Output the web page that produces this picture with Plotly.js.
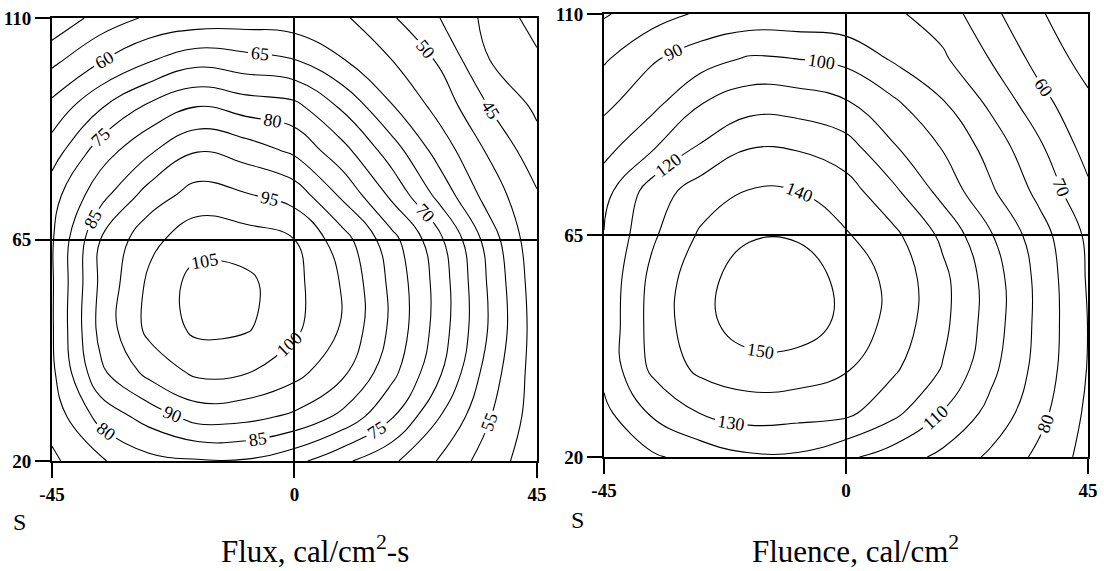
<!DOCTYPE html>
<html>
<head>
<meta charset="utf-8">
<script src="https://cdn.plot.ly/plotly-3.0.1.min.js"></script>
<style>html,body{margin:0;padding:0;background:#fff;}#chart{width:1104px;height:571px;}</style>
</head>
<body>
<div id="chart"></div>
<script>
// grid positions (x across, S along)
const xVals = [-45, -36, -27, -18, -9, 0, 9, 18, 27, 36, 45];
const yVals = [20, 29, 38, 47, 56, 65, 74, 83, 92, 101, 110];
const xTicks = [-45, 0, 45];
const xTickText = ['-45', '0', '45'];
const yTicks = [20, 65, 110];
const yTickText = ['20', '65', '110'];

// Flux, cal/cm2-s  (one row per S value)
const flux20  = [69, 74.5, 78.5, 79.5, 79.5, 76.5, 71, 66, 59.5, 52.5, 47];
const flux29  = [72, 81.7, 87, 92, 91.5, 89, 83.7, 75.5, 65, 55.5, 47.5];
const flux38  = [74, 89, 96.5, 101.1, 100.3, 96.7, 91, 81.6, 70.6, 57.8, 47.5];
const flux47  = [74.5, 91.6, 101.4, 106.2, 105.6, 101.1, 94.4, 84, 72.6, 59.8, 47.5];
const flux56  = [74.5, 91, 101, 107, 106.3, 101.5, 94.5, 83.8, 72.8, 59.5, 47];
const flux65  = [74.5, 90, 98.6, 102.9, 102.4, 100, 92.1, 81.8, 71.1, 57.9, 46];
const flux74  = [73, 83.3, 92.2, 97.3, 95.4, 93, 83.9, 74, 63.3, 52.8, 45.5];
const flux83  = [67.5, 77.5, 84.2, 89.8, 87.8, 84, 76.7, 67.5, 57.8, 49.4, 42];
const flux92  = [61.5, 69.5, 76, 80, 77.8, 76.5, 69.1, 60.4, 53.1, 45, 39];
const flux101 = [54, 60, 65, 68.75, 67.2, 65.7, 60.5, 55.3, 49.5, 40.2, 36];
const flux110 = [46, 52, 55.8, 57, 57.5, 57, 55.8, 50.6, 45, 38.6, 33];
const fluxLevels = {start: 35, end: 105, size: 5};

// Fluence, cal/cm2
const flu20  = [101, 108.5, 114, 118.5, 118.5, 111.9, 105.1, 97.6, 88, 77.6, 66.5];
const flu29  = [107.5, 121.5, 130.5, 134.5, 133.5, 132.5, 122.5, 109.5, 96.9, 83, 68];
const flu38  = [113, 132.1, 142.5, 146, 145.5, 141, 131.5, 119.4, 102.6, 86.2, 69.5];
const flu47  = [113, 133.7, 146.9, 155, 155, 147.5, 136, 122.5, 105.2, 87.1, 69.8];
const flu56  = [112.5, 132.9, 146.5, 155.5, 155.5, 147.2, 136.6, 122.8, 105.2, 87, 69];
const flu65  = [110.5, 128.5, 141.5, 149, 149, 141, 132.3, 117.8, 100.7, 84.3, 68];
const flu74  = [106.5, 125, 134.7, 140.5, 140, 134.5, 121.8, 106.6, 91.4, 77.2, 62];
const flu83  = [96.2, 108.8, 121.2, 129.5, 129, 124, 110.7, 99.3, 85.8, 71.5, 56];
const flu92  = [87.4, 96.8, 109.5, 115.7, 115, 111, 101.5, 90.7, 77.8, 63.3, 52];
const flu101 = [78.6, 88.8, 95.3, 101, 99.8, 97, 88.5, 81.5, 69.3, 56.3, 46];
const flu110 = [69, 75.6, 81.5, 83.5, 83.5, 83, 81.5, 75.5, 62.5, 51.1, 42];
const fluLevels = {start: 50, end: 150, size: 10};

const titles = ['Flux, cal/cm<sup>2</sup>-s', 'Fluence, cal/cm<sup>2</sup>'];
const axisLetter = 'S';

const fluxZ = [flux20, flux29, flux38, flux47, flux56, flux65, flux74, flux83, flux92, flux101, flux110];
const fluZ = [flu20, flu29, flu38, flu47, flu56, flu65, flu74, flu83, flu92, flu101, flu110];

const SERIF = 'Liberation Serif';

function contourTrace(z, lv, xa, ya) {
  return {
    type: 'contour', x: xVals, y: yVals, z: z, xaxis: xa, yaxis: ya,
    autocontour: false,
    contours: {coloring: 'none', start: lv.start, end: lv.end, size: lv.size,
               showlabels: true,
               labelfont: {family: SERIF, size: 18, color: '#000'}},
    line: {color: '#000', width: 1.1, smoothing: 1.2},
    showscale: false, hoverinfo: 'skip'
  };
}

function xAxis(domain, anchor) {
  return {domain: domain, anchor: anchor, range: [-45, 45],
    tickmode: 'array', tickvals: xTicks, ticktext: xTickText,
    ticks: 'outside', ticklen: 15, tickwidth: 2, tickcolor: '#000',
    showline: true, linewidth: 2, linecolor: '#000', mirror: true,
    showgrid: true, gridcolor: '#000', gridwidth: 2, zeroline: false,
    tickfont: {family: SERIF, size: 19, color: '#000', weight: 'bold'},
    fixedrange: true};
}
function yAxis(domain, anchor) {
  return {domain: domain, anchor: anchor, range: [20, 110],
    tickmode: 'array', tickvals: yTicks, ticktext: yTickText,
    ticks: 'outside', ticklen: 15, tickwidth: 2, tickcolor: '#000',
    showline: true, linewidth: 2, linecolor: '#000', mirror: true,
    showgrid: true, gridcolor: '#000', gridwidth: 2, zeroline: false,
    tickfont: {family: SERIF, size: 19, color: '#000', weight: 'bold'},
    fixedrange: true};
}

const data = [
  contourTrace(fluxZ, fluxLevels, 'x', 'y'),
  contourTrace(fluZ, fluLevels, 'x2', 'y2')
];

const layout = {
  width: 1104, height: 571,
  margin: {l: 52, r: 16, t: 14, b: 110},
  paper_bgcolor: '#fff', plot_bgcolor: '#fff',
  showlegend: false,
  xaxis: xAxis([0, 0.4681], 'y'),
  yaxis: yAxis([0, 0.991], 'x'),
  xaxis2: xAxis([0.5328, 1], 'y2'),
  yaxis2: yAxis([0.009, 1], 'x2'),
  annotations: [
    {xref: 'paper', yref: 'paper', x: 0.2539, y: -0.198, text: titles[0], showarrow: false,
     xanchor: 'center', yanchor: 'middle', font: {family: SERIF, size: 31, color: '#000'}},
    {xref: 'paper', yref: 'paper', x: 0.7751, y: -0.198, text: titles[1], showarrow: false,
     xanchor: 'center', yanchor: 'middle', font: {family: SERIF, size: 31, color: '#000'}},
    {xref: 'paper', yref: 'paper', x: -0.0309, y: -0.1365, text: axisLetter, showarrow: false,
     xanchor: 'center', yanchor: 'middle', font: {family: SERIF, size: 24, color: '#000'}},
    {xref: 'paper', yref: 'paper', x: 0.5068, y: -0.132, text: axisLetter, showarrow: false,
     xanchor: 'center', yanchor: 'middle', font: {family: SERIF, size: 24, color: '#000'}}
  ]
};

Plotly.newPlot('chart', data, layout, {staticPlot: true, displayModeBar: false});
</script>
</body>
</html>
